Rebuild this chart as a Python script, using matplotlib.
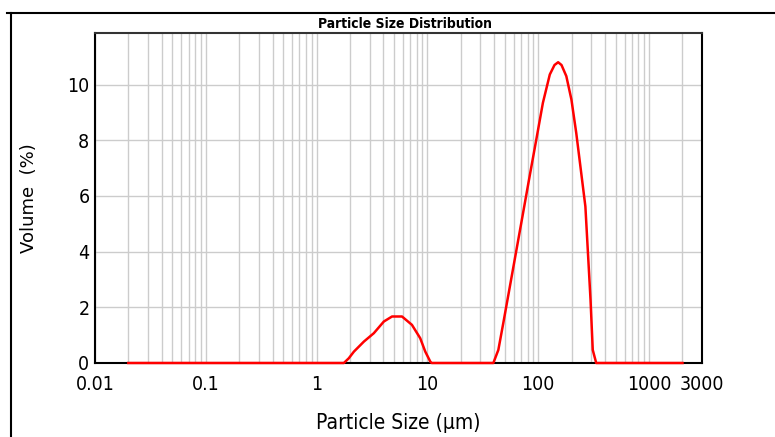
import matplotlib
matplotlib.use("Agg")
import matplotlib.pyplot as plt
from matplotlib import font_manager as fm
from matplotlib.lines import Line2D
from matplotlib.ticker import FixedLocator, LogLocator, NullFormatter

# particle size (um) and volume (%)
sizes = [0.02, 0.1, 1.0, 1.76, 1.95, 2.17, 2.67, 3.28, 4.04, 4.79, 5.89, 7.24,
         8.6, 9.55, 10.6, 10.9, 20.0, 39.3, 43.6, 48.3, 53.6, 62.0, 72.0,
         83.8, 96.0, 110.0, 127.0, 140.0, 151.0, 162.0, 179.0, 199.0, 220.0,
         244.0, 266.0, 296.0, 310.0, 333.0, 1000.0, 2000.0]
volume = [0.0, 0.0, 0.0, 0.0, 0.17, 0.41, 0.77, 1.07, 1.49, 1.67, 1.67, 1.37,
          0.89, 0.41, 0.05, 0.0, 0.0, 0.0, 0.47, 1.43, 2.43, 3.83, 5.27,
          6.74, 8.03, 9.34, 10.36, 10.7, 10.8, 10.7, 10.3, 9.46, 8.26,
          6.82, 5.62, 2.27, 0.47, 0.0, 0.0, 0.0]

xticks = [0.01, 0.1, 1, 10, 100, 1000, 3000]
xtick_labels = ["0.01", "0.1", "1", "10", "100", "1000", "3000"]
yticks = [0, 2, 4, 6, 8, 10]


def narrow_font(bold=False):
    # look for any installed condensed / narrow face
    for f in fm.fontManager.ttflist:
        fn = f.fname.lower()
        if ("narrow" in fn or "condensed" in fn) and "oblique" not in fn \
                and "italic" not in fn and ("bold" in fn) == bold:
            return fm.FontProperties(fname=f.fname)
    return fm.FontProperties(family="DejaVu Sans",
                             weight="bold" if bold else "normal")


fp = narrow_font()
fpb = narrow_font(bold=True)

fig = plt.figure(figsize=(7.75, 4.37), dpi=100)
ax = fig.add_axes([95 / 775, 1 - 363 / 437, 607 / 775, 330 / 437])

ax.set_xscale("log")
ax.set_xlim(0.01, 3000)
ax.set_ylim(0, 11.85)

ax.plot(sizes, volume, color="#ff0000", lw=1.8, solid_joinstyle="round",
        zorder=5, clip_on=False)

ax.xaxis.set_major_locator(FixedLocator(xticks))
ax.xaxis.set_minor_locator(LogLocator(base=10, subs=range(2, 10), numticks=20))
ax.xaxis.set_minor_formatter(NullFormatter())
ax.set_xticklabels(xtick_labels, fontproperties=fp, fontsize=14)
ax.set_yticks(yticks)
ax.set_yticklabels([str(v) for v in yticks], fontproperties=fp, fontsize=14)
ax.tick_params(which="both", length=0)
ax.tick_params(axis="x", pad=9)
ax.tick_params(axis="y", pad=4)

ax.grid(True, which="both", axis="x", color="#cccccc", lw=1.0)
ax.grid(True, which="major", axis="y", color="#cccccc", lw=1.0)
ax.set_axisbelow(True)

for s in ax.spines.values():
    s.set_linewidth(1.5)
    s.set_color("black")
ax.spines["top"].set_color("#333333")

ax.set_xlabel("Particle Size (µm)", fontproperties=fp, fontsize=15)
ax.xaxis.set_label_coords(0.5, -50 / 330)
ax.set_ylabel("Volume  (%)", family="DejaVu Sans", fontsize=13)
ax.yaxis.set_label_coords(-57 / 607, 0.5)

fig.text(0.522, 1 - 24 / 437, "Particle Size Distribution", fontproperties=fpb,
         fontsize=10, ha="center", va="center")

# outer frame lines
fig.add_artist(Line2D([7 / 775, 1.0], [1 - 12.5 / 437, 1 - 12.5 / 437],
                      color="black", lw=1.5))
fig.add_artist(Line2D([10.5 / 775, 10.5 / 775], [0.0, 1 - 12.5 / 437],
                      color="black", lw=1.5))

fig.savefig("out.png", dpi=100)
